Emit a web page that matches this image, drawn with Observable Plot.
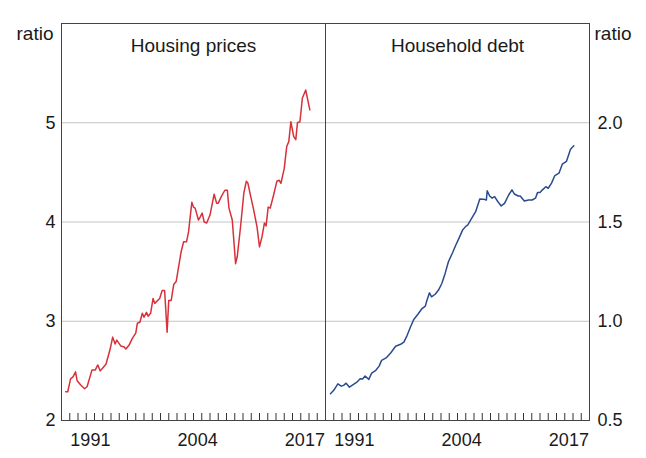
<!DOCTYPE html>
<html><head><meta charset="utf-8">
<script src="https://cdn.jsdelivr.net/npm/d3@7"></script>
<script src="https://cdn.jsdelivr.net/npm/@observablehq/plot@0.6"></script>
<style>
body{margin:0;background:#fff;}
#chart{position:relative;width:646px;height:458px;font-family:"Liberation Sans",Arial,sans-serif;}
#chart svg{position:absolute;top:0;overflow:visible;}
</style></head><body><div id="chart"></div>
<script>
const panelTitles = ["Housing prices", "Household debt"];
const axisUnit = "ratio";
const xTickLabels = [1991, 2004, 2017];
const yearTicks = [1989,1990,1991,1992,1993,1994,1995,1996,1997,1998,1999,2000,2001,2002,2003,2004,2005,2006,2007,2008,2009,2010,2011,2012,2013,2014,2015,2016,2017,2018,2019];
const leftTicks = [2, 3, 4, 5];
const rightTicks = [0.5, 1.0, 1.5, 2.0];

const housingYears = [1988.5,1988.76,1989.1,1989.4,1989.7,1989.9,1990.3,1990.8,1991.1,1991.7,1992.1,1992.4,1992.7,1993.1,1993.4,1993.9,1994.2,1994.5,1994.7,1995.2,1995.6,1995.8,1996.2,1996.6,1997.0,1997.2,1997.5,1997.8,1998.0,1998.3,1998.5,1998.8,1999.1,1999.3,1999.9,2000.2,2000.5,2000.8,2001.0,2001.3,2001.6,2001.9,2002.2,2002.5,2002.8,2003.15,2003.4,2003.8,2004.0,2004.2,2004.6,2004.8,2005.05,2005.3,2005.6,2006.0,2006.5,2006.8,2007.0,2007.4,2007.8,2008.1,2008.3,2008.7,2009.1,2009.3,2009.7,2010.1,2010.4,2010.6,2010.9,2011.3,2011.7,2012.0,2012.3,2012.6,2012.8,2013.05,2013.3,2013.7,2014.1,2014.4,2014.6,2015.0,2015.3,2015.55,2015.8,2016.15,2016.4,2016.6,2016.9,2017.2,2017.6,2018.1];
const housingValues = [2.29,2.29,2.42,2.44,2.49,2.40,2.36,2.32,2.34,2.51,2.51,2.56,2.50,2.54,2.57,2.72,2.84,2.77,2.81,2.75,2.74,2.72,2.76,2.83,2.88,2.98,2.99,3.08,3.04,3.09,3.05,3.08,3.23,3.18,3.23,3.31,3.31,2.89,3.21,3.21,3.37,3.40,3.55,3.70,3.80,3.80,3.90,4.20,4.15,4.14,4.02,4.05,4.09,4.00,3.99,4.07,4.28,4.19,4.19,4.26,4.32,4.32,4.14,4.02,3.58,3.65,3.95,4.29,4.41,4.39,4.27,4.12,3.95,3.75,3.85,3.99,3.96,4.15,4.14,4.27,4.41,4.42,4.39,4.54,4.76,4.81,5.01,4.86,4.83,5.00,5.01,5.25,5.33,5.13];

const debtYears = [1988.6,1989.0,1989.5,1989.9,1990.2,1990.5,1990.9,1991.4,1991.8,1992.2,1992.5,1992.8,1993.25,1993.6,1994.1,1994.5,1994.8,1995.4,1995.9,1996.5,1997.1,1997.5,1997.9,1998.3,1998.7,1999.2,1999.7,2000.1,2000.3,2000.6,2000.85,2001.3,2001.7,2002.1,2002.5,2002.9,2003.4,2003.8,2004.2,2004.6,2005.0,2005.25,2005.8,2006.2,2006.7,2007.2,2007.5,2007.6,2007.9,2008.2,2008.5,2008.9,2009.3,2009.7,2010.2,2010.6,2010.9,2011.35,2011.6,2012.1,2012.6,2013.05,2013.45,2013.7,2014.0,2014.3,2014.7,2015.0,2015.4,2015.8,2016.3,2016.7,2017.2,2017.7,2018.1];
const debtValues = [0.635,0.652,0.685,0.673,0.677,0.688,0.668,0.682,0.693,0.710,0.709,0.724,0.707,0.739,0.753,0.774,0.803,0.817,0.840,0.874,0.884,0.895,0.929,0.971,1.009,1.035,1.064,1.076,1.106,1.143,1.123,1.136,1.157,1.190,1.241,1.300,1.345,1.384,1.420,1.458,1.478,1.485,1.524,1.552,1.616,1.615,1.611,1.657,1.631,1.620,1.628,1.602,1.581,1.594,1.636,1.662,1.641,1.631,1.631,1.606,1.611,1.611,1.620,1.648,1.648,1.662,1.678,1.670,1.696,1.734,1.746,1.791,1.805,1.867,1.884];

const housing = housingYears.map((year, i) => ({year, value: housingValues[i]}));
const debt = debtYears.map((year, i) => ({year, value: debtValues[i]}));

const font = '"Liberation Sans", Arial, sans-serif';
const style = {fontFamily: font, fontSize: "18px", color: "#1a1a1a", background: "transparent", overflow: "visible"};
const labelPos = xTickLabels.map(d => d + 0.5);

const left = Plot.plot({
  width: 325, height: 458, marginLeft: 61, marginRight: 0, marginTop: 23, marginBottom: 38,
  style,
  x: {domain: [1988, 2020]},
  y: {domain: [2, 6]},
  marks: [
    Plot.gridY(leftTicks.slice(1), {stroke: "#c4c4c4", strokeOpacity: 1}),
    Plot.tickX(yearTicks, {insetTop: 390, stroke: "#333"}),
    Plot.axisX(labelPos, {tickSize: 0, tickPadding: 13, tickFormat: d => String(Math.floor(d)), label: null}),
    Plot.axisY(leftTicks, {tickSize: 0, tickPadding: 6, tickFormat: d3.format("d"), label: null}),
    Plot.lineY(housing, {x: "year", y: "value", stroke: "#d7313a", strokeWidth: 1.5}),
    Plot.frame({stroke: "#444"}),
    Plot.text([panelTitles[0]], {frameAnchor: "top", lineAnchor: "middle", dy: 22, fontSize: 19}),
    Plot.text([axisUnit], {frameAnchor: "top-left", lineAnchor: "middle", textAnchor: "end", dx: -8, dy: 10, fontSize: 19})
  ]
});

const right = Plot.plot({
  width: 321, height: 458, marginLeft: 0, marginRight: 57, marginTop: 23, marginBottom: 38,
  style,
  x: {domain: [1988, 2020]},
  y: {domain: [0.5, 2.5]},
  marks: [
    Plot.gridY(rightTicks.slice(1), {stroke: "#c4c4c4", strokeOpacity: 1}),
    Plot.tickX(yearTicks, {insetTop: 390, stroke: "#333"}),
    Plot.axisX(labelPos, {tickSize: 0, tickPadding: 13, tickFormat: d => String(Math.floor(d)), label: null}),
    Plot.axisY(rightTicks, {anchor: "right", tickSize: 0, tickPadding: 8, tickFormat: d3.format(".1f"), label: null}),
    Plot.lineY(debt, {x: "year", y: "value", stroke: "#2b4c8c", strokeWidth: 1.5}),
    Plot.frame({stroke: "#444"}),
    Plot.text([panelTitles[1]], {frameAnchor: "top", lineAnchor: "middle", dy: 22, fontSize: 19}),
    Plot.text([axisUnit], {frameAnchor: "top-right", lineAnchor: "middle", textAnchor: "start", dx: 5, dy: 10, fontSize: 19})
  ]
});

left.style.left = "0px";
right.style.left = "325px";
const chart = document.getElementById("chart");
chart.appendChild(left);
chart.appendChild(right);
</script></body></html>
